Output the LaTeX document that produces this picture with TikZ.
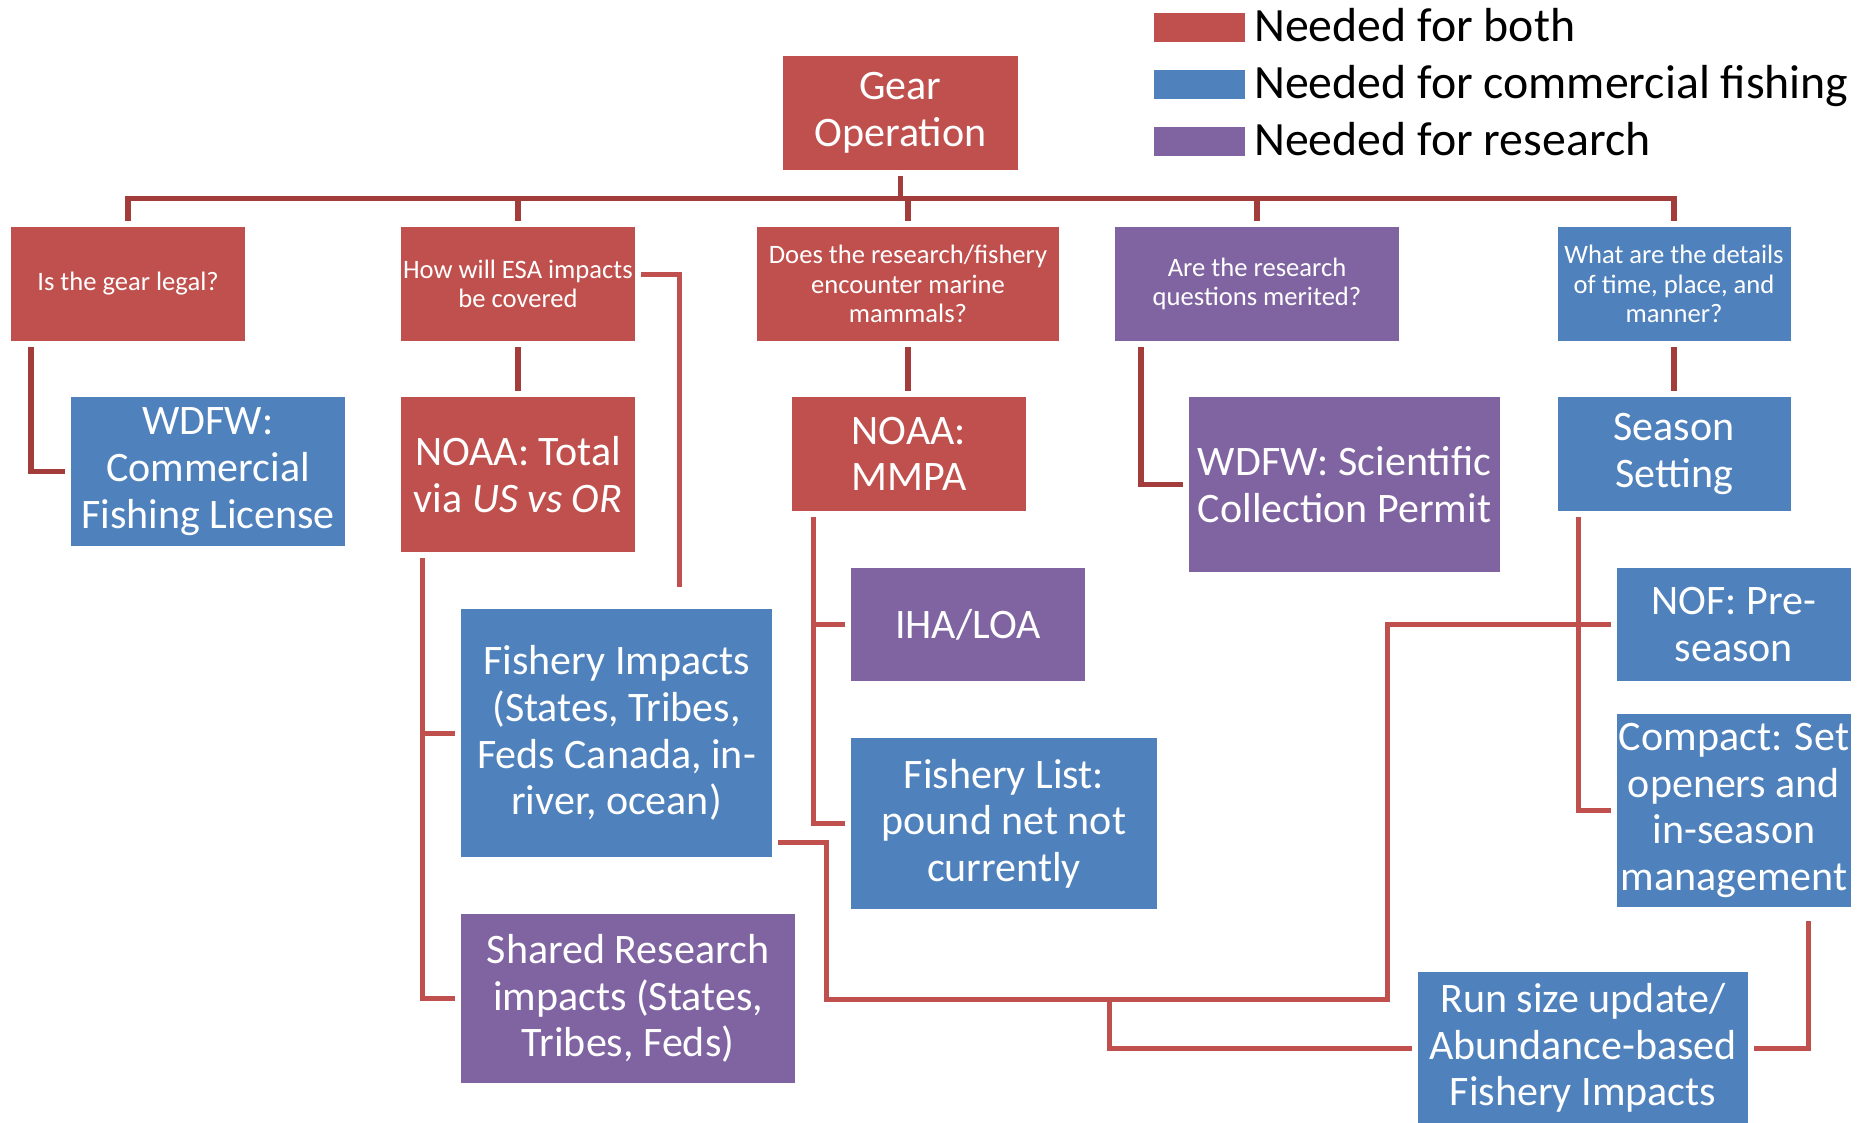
\documentclass[tikz,border=0pt]{standalone}
\usepackage{fontspec}
\setmainfont{Carlito}
\usepackage{tikz}
\usetikzlibrary{calc}
\definecolor{both}{HTML}{C0504D}
\definecolor{comm}{HTML}{4F81BD}
\definecolor{res}{HTML}{8064A2}
\definecolor{trunkred}{HTML}{A23D3B}
\tikzset{
  tile/.style={rectangle, inner sep=0pt, outer sep=6pt, align=center, text=white},
  bothBox/.style={tile, fill=both},
  commBox/.style={tile, fill=comm},
  resBox/.style={tile, fill=res},
  askTxt/.style={font=\fontsize{26.6}{29.7}\selectfont},
  bigTxt/.style={font=\fontsize{42}{46.7}\selectfont},
  keyTxt/.style={font=\fontsize{47.8}{52}\selectfont, anchor=base west, text=black, inner sep=0pt},
  keyBox/.style={rectangle, inner sep=0pt, minimum width=91pt, minimum height=29pt},
  trunkLn/.style={draw=trunkred, line width=5.5pt},
  linkLn/.style={draw=both, line width=5pt},
}

\begin{document}
\begin{tikzpicture}[x=1pt, y=-1pt]
  \useasboundingbox (0,0) rectangle (1864,1123);

  % Legend
  \node[keyBox, fill=both] (keyboth) at (1199.5,27.5) {};
  \node[keyBox, fill=comm] (keycomm) at (1199.5,84.5) {};
  \node[keyBox, fill=res]  (keyres)  at (1199.5,141.5) {};
  \node[keyTxt] (lblboth) at (1254,42)  {Needed for both};
  \node[keyTxt] (lblcomm) at (1254,99)  {Needed for commercial fishing};
  \node[keyTxt] (lblres)  at (1254,156) {Needed for research};

  \node[bothBox, bigTxt, minimum width=235pt, minimum height=114pt] (gear) at (900.5,113) {Gear\\Operation};

  % Questions
  \node[bothBox, askTxt, minimum width=234pt, minimum height=114pt] (legal)   at (128,284)  {Is the gear legal?};
  \node[bothBox, askTxt, minimum width=234pt, minimum height=114pt] (esa)     at (518,284)  {How will ESA impacts\\be covered};
  \node[bothBox, askTxt, minimum width=302pt, minimum height=114pt] (mammal)  at (908,284)  {Does the research/fishery\\encounter marine\\mammals?};
  \node[resBox,  askTxt, minimum width=284pt, minimum height=114pt] (merit)   at (1257,284) {Are the research\\questions merited?};
  \node[commBox, askTxt, minimum width=233pt, minimum height=114pt] (details) at (1674,284) {What are the details\\of time, place, and\\manner?};

  % Permits
  \node[commBox, bigTxt, minimum width=274pt, minimum height=149pt] (wdfwcom)   at (208,471.5)  {WDFW:\\Commercial\\Fishing License};
  \node[bothBox, bigTxt, minimum width=234pt, minimum height=155pt] (noaatotal) at (518,474.5)  {NOAA: Total\\via \textit{US vs OR}};
  \node[bothBox, bigTxt, minimum width=234pt, minimum height=114pt] (mmpa)      at (909,454)    {NOAA:\\MMPA};
  \node[resBox,  bigTxt, minimum width=311pt, minimum height=175pt] (wdfwsci)   at (1344.5,484.5) {WDFW: Scientific\\Collection Permit};
  \node[commBox, bigTxt, minimum width=233pt, minimum height=114pt] (season)    at (1674,454)   {Season\\Setting};

  \node[commBox, bigTxt, minimum width=311pt, minimum height=248pt] (fishimp)  at (616.5,733)  {Fishery Impacts\\(States, Tribes,\\Feds Canada, in-\\river, ocean)};
  \node[resBox,  bigTxt, minimum width=334pt, minimum height=169pt] (shared)   at (628,998.5)  {Shared Research\\impacts (States,\\Tribes, Feds)};
  \node[resBox,  bigTxt, minimum width=234pt, minimum height=113pt] (iha)      at (968,624.5)  {IHA/LOA};
  \node[commBox, bigTxt, minimum width=306pt, minimum height=171pt] (fishlist) at (1004,823.5) {Fishery List:\\pound net not\\currently};
  \node[commBox, bigTxt, minimum width=234pt, minimum height=113pt] (nof)      at (1734,624.5) {NOF: Pre-\\season};
  \node[commBox, bigTxt, minimum width=234pt, minimum height=193pt] (compact)  at (1734,810.5) {Compact: Set\\openers and\\in-season\\management};
  \node[commBox, bigTxt, minimum width=330pt, minimum height=152pt] (runsize)  at (1583,1048)  {Run size update/\\Abundance-based\\Fishery Impacts};

  \coordinate (bus) at (900,198.5);
  \coordinate (legalbend) at (31,0);
  \coordinate (meritbend) at (1141,0);
  \coordinate (esaend) at (679,587);
  \coordinate (totalbus) at (422,0);
  \coordinate (mmpabus) at (813,0);
  \coordinate (seasonbus) at (1578,0);
  \coordinate (jogA) at (826,999);
  \coordinate (jogB) at (1387,999);
  \coordinate (split) at (1109,999);
  \coordinate (runup) at (1808,921);

  % Top bus
  \draw[trunkLn] (legal.north) |- (bus) -| (details.north);
  \draw[trunkLn] (gear.south) -- (gear.south |- bus);
  \foreach \q in {esa,mammal,merit}
    \draw[trunkLn] (\q.north) -- (\q.north |- bus);

  \draw[trunkLn] (esa.south) -- (noaatotal.north);
  \draw[trunkLn] (mammal.south) -- (mammal.south |- mmpa.north);
  \draw[trunkLn] (details.south) -- (season.north);
  \draw[trunkLn] (legal.south -| legalbend) |- (wdfwcom.west);
  \draw[trunkLn] (merit.south -| meritbend) |- (wdfwsci.west);

  \draw[linkLn] ([yshift=9pt]esa.east) -| (esaend);
  \draw[linkLn] (noaatotal.south -| totalbus) |- (shared.west);
  \draw[linkLn] (totalbus |- fishimp.west) -- (fishimp.west);
  \draw[linkLn] (mmpa.south -| mmpabus) |- (fishlist.west);
  \draw[linkLn] (mmpabus |- iha.west) -- (iha.west);
  \draw[linkLn] (season.south -| seasonbus) |- (compact.west);
  \draw[linkLn] (seasonbus |- nof.west) -- (nof.west);

  \draw[linkLn] ([yshift=-109pt]fishimp.east) -| (jogA) -- (jogB) |- (nof.west);
  \draw[linkLn] (split) |- (runsize.west);
  \draw[linkLn] (runsize.east) -| (runup);
\end{tikzpicture}
\end{document}
